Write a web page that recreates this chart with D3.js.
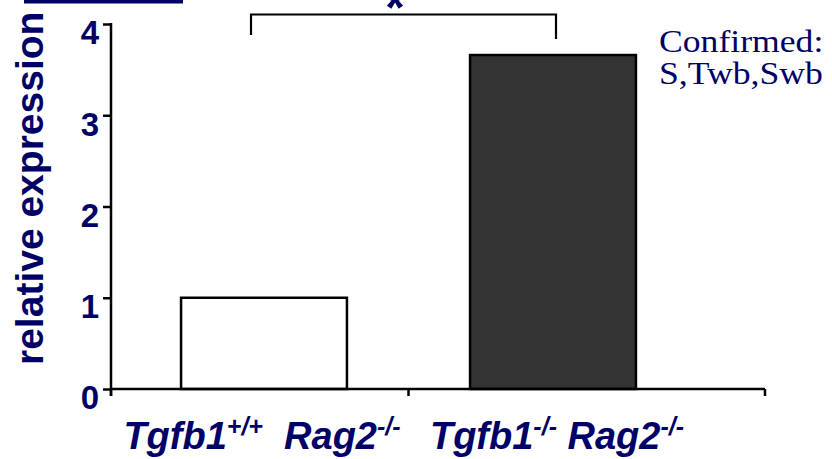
<!DOCTYPE html>
<html>
<head>
<meta charset="utf-8">
<script src="https://cdn.jsdelivr.net/npm/d3@7"></script>
<style>
  html, body { margin: 0; padding: 0; background: #fff; }
  svg { display: block; }
</style>
</head>
<body>
<svg id="chart" width="832" height="459"></svg>
<script>
// Genotypes on the x axis, each label split into [text, isSuperscript] pieces
const categories = ["Tgfb1+/+ Rag2-/-", "Tgfb1-/- Rag2-/-"];
const labelParts = [
  [["Tgfb1", false], ["+/+", true], ["  Rag2", false], ["-/-", true]],
  [["Tgfb1", false], ["-/-", true], [" Rag2", false], ["-/-", true]]
];
const values = [1.0, 3.66];
const yTicks = [0, 1, 2, 3, 4];
const noteLines = ["Confirmed:", "S,Twb,Swb"];

const navy = "#000066";
const svg = d3.select("#chart");

const y = d3.scaleLinear().domain([0, 4]).range([389, 24]);
const x = d3.scaleBand()
  .domain(categories)
  .range([119.5, 697.5])
  .paddingInner(0.426)
  .paddingOuter(0.213);

// decorative underline at the top-left
svg.append("rect").attr("x", 24).attr("y", 0).attr("width", 159).attr("height", 3.5).attr("fill", navy);

// bars
svg.selectAll("rect.bar")
  .data(values)
  .join("rect")
  .attr("class", "bar")
  .attr("x", (d, i) => x(categories[i]))
  .attr("width", x.bandwidth())
  .attr("y", d => y(d))
  .attr("height", d => y(0) - y(d))
  .attr("fill", (d, i) => i === 0 ? "#ffffff" : "#333333")
  .attr("stroke", "#000")
  .attr("stroke-width", 2.5);

// y axis
const x0 = 111;
const xEnd = 765;
const yAxis = svg.append("g").attr("transform", `translate(${x0},0)`)
  .call(d3.axisLeft(y).tickValues(yTicks).tickSize(8).tickPadding(4).tickFormat(d3.format("d")));
yAxis.select(".domain").remove();
yAxis.selectAll(".tick line").attr("stroke", "#000").attr("stroke-width", 2.5);
yAxis.selectAll(".tick text")
  .attr("fill", navy)
  .attr("font-family", "Liberation Sans, Arial, sans-serif")
  .attr("font-weight", "bold")
  .attr("font-size", 33)
  .attr("dy", "0.6em")
  .attr("x", -12);
svg.append("line")
  .attr("x1", x0).attr("x2", x0)
  .attr("y1", y(4) - 1).attr("y2", y(0) + 7)
  .attr("stroke", "#000").attr("stroke-width", 2.5);

// x axis: baseline plus ticks at the ends and between groups
svg.append("line")
  .attr("x1", x0).attr("x2", xEnd)
  .attr("y1", y(0)).attr("y2", y(0))
  .attr("stroke", "#000").attr("stroke-width", 2.5);
const gap = x.step() * x.paddingInner() / 2;
const xTickPos = [x0, x(categories[1]) - gap, xEnd];
svg.selectAll("line.xtick")
  .data(xTickPos)
  .join("line")
  .attr("class", "xtick")
  .attr("x1", d => d).attr("x2", d => d)
  .attr("y1", y(0)).attr("y2", y(0) + 7)
  .attr("stroke", "#000").attr("stroke-width", 2.5);

// x labels with superscripts
categories.forEach((c, i) => {
  const t = svg.append("text")
    .attr("x", x(c) + x.bandwidth() / 2 + (i === 0 ? -2 : 4))
    .attr("y", 449)
    .attr("text-anchor", "middle")
    .attr("fill", navy)
    .attr("font-family", "Liberation Sans, Arial, sans-serif")
    .attr("font-weight", "bold")
    .attr("font-style", "italic")
    .attr("font-size", 38)
    .style("white-space", "pre");
  let raised = false;
  labelParts[i].forEach(([s, sup]) => {
    const sp = t.append("tspan").text(s);
    if (sup) { sp.attr("dy", -14).attr("font-size", 25); raised = true; }
    else if (raised) { sp.attr("dy", 14); raised = false; }
  });
});

// y axis title
svg.append("text")
  .attr("transform", "translate(43,365) rotate(-90)")
  .attr("text-anchor", "start")
  .attr("fill", navy)
  .attr("font-family", "Liberation Sans, Arial, sans-serif")
  .attr("font-weight", "bold")
  .attr("font-size", 39)
  .text("relative expression");

// significance bracket
const bx1 = 251, bx2 = 556;
svg.append("path")
  .attr("d", `M${bx1},35 V14.5 H${bx2} V39`)
  .attr("fill", "none")
  .attr("stroke", "#000")
  .attr("stroke-width", 2.2);
svg.append("text")
  .attr("x", 395).attr("y", 25)
  .attr("text-anchor", "middle")
  .attr("fill", navy)
  .attr("font-family", "Liberation Sans, Arial, sans-serif")
  .attr("font-weight", "bold")
  .attr("font-size", 50)
  .text("*");

// note at the top right (slightly widened serif text)
svg.append("g")
  .attr("transform", "translate(659,0) scale(1.15,1)")
  .selectAll("text.note")
  .data(noteLines)
  .join("text")
  .attr("class", "note")
  .attr("x", 0)
  .attr("y", (d, i) => 52 + i * 32)
  .attr("fill", navy)
  .attr("font-family", "Liberation Serif, Times New Roman, serif")
  .attr("font-size", 31)
  .text(d => d);
</script>
</body>
</html>
